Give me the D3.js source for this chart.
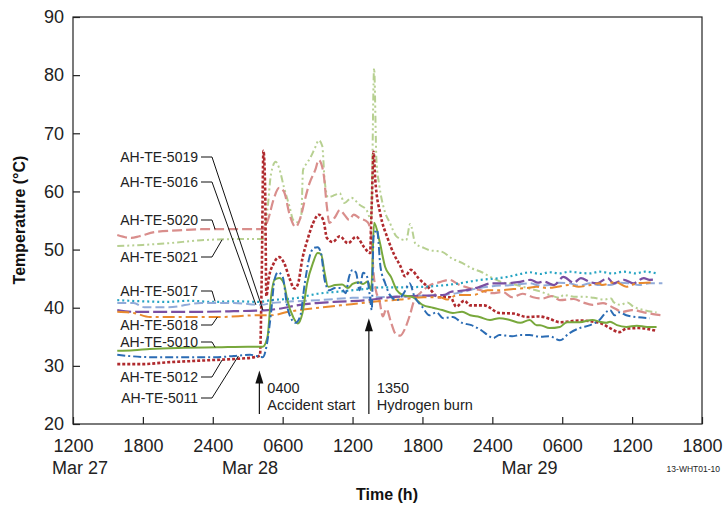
<!DOCTYPE html>
<html>
<head>
<meta charset="utf-8">
<script src="https://cdn.jsdelivr.net/npm/d3@7"></script>
<style>
  body { margin: 0; background: #fff; }
  svg { font-family: "Liberation Sans", Arial, sans-serif; }
</style>
</head>
<body>
<div id="chart"></div>
<script>
// hours counted from 1200 Mar 27
const hourTicks = [0, 6, 12, 18, 24, 30, 36, 42, 48, 54];
const timeLabels = ["1200", "1800", "2400", "0600", "1200", "1800", "2400", "0600", "1200", "1800"];
const dateLabels = ["Mar 27", "Mar 28", "Mar 29"];
const dateHours = [0.6, 15.2, 39.2];
const tempTicks = [20, 30, 40, 50, 60, 70, 80, 90];

const ah5012 = [[3.8,30.3],[6,30.3],[8,30.6],[10,30.8],[12,31],[14,31.2],[15.6,31.5],[16.05,31.8],[16.2,45],[16.35,67],[16.5,60],[16.6,42],[16.8,45],[17.2,47.5],[17.7,48.7],[18.1,47.8],[18.6,45],[19.0,43.3],[19.3,44],[19.7,48.5],[20.1,51.5],[20.6,54.5],[21.1,56],[21.5,55],[21.8,52],[22.3,51.3],[22.9,52.3],[23.6,51.1],[24.3,52.2],[25,50.4],[25.5,49.4],[25.65,58],[25.8,66.8],[25.95,62],[26.4,56],[27.0,52],[27.6,49],[28.1,47.2],[28.5,45.4],[29,46.5],[29.7,45],[30.6,43.3],[31.4,41.8],[32.4,41.8],[32.9,40.2],[33.6,41.2],[34.1,40.4],[35.3,40.4],[36.6,39.1],[37.8,39],[39,38.4],[40,38.5],[40.9,38.1],[41.8,37.5],[43.5,37.8],[45.2,37.4],[46.1,36.5],[46.9,35.8],[47.5,36.4],[48.6,36.5],[50.1,36.0]];
const ah5020 = [[3.8,52.5],[5.0,52],[5.7,52.3],[7,53],[9,53.3],[11,53.5],[14,53.5],[16.3,53.5],[16.8,55.5],[17.2,58.5],[17.7,60.6],[18.1,60],[18.6,56],[19.1,53.9],[19.6,56],[19.9,58.5],[20.3,61.4],[20.8,63.7],[21.1,65.4],[21.5,63.2],[21.8,57.3],[22.0,54.6],[22.5,55.6],[22.9,56.8],[23.3,56],[23.7,55.1],[24.1,56],[24.6,55.4],[25.3,54.7],[25.6,52.5],[25.8,46],[26.0,43],[26.3,41.3],[26.6,38.5],[26.9,39.8],[27.3,37.5],[27.7,35.5],[28.1,35.2],[28.5,36.4],[28.9,38.6],[29.3,41.3],[29.8,42.5],[30.6,43.8],[31.5,44.4],[32.3,44.8],[33.1,44],[34.0,43.4],[34.8,43.1],[36.0,42.5],[36.9,42.7],[37.7,41.8],[38.6,42.4],[39.5,41.8],[40.3,41.6],[41.1,42],[41.8,41.3],[43.0,41.5],[43.8,40.9],[44.6,40.5],[45.5,40.8],[46.3,40.1],[47.2,39.3],[48.0,39.6],[49.0,39.2],[49.8,38.9],[50.6,38.7]];
const ah5021 = [[3.8,50.6],[6,50.8],[8.2,51.1],[11,51.6],[14,51.8],[16.3,51.8],[16.7,57],[17.0,63],[17.4,65.1],[17.7,64],[18.1,60.8],[18.6,57.3],[18.9,55.1],[19.3,54.7],[19.6,55.9],[19.75,63.7],[20.1,64.9],[20.4,65.9],[20.8,67.6],[21.1,68.8],[21.4,67.8],[21.6,62],[21.9,59],[22.5,59.4],[22.9,59.7],[23.3,58],[23.9,58.9],[24.6,57.7],[25.2,56.8],[25.6,55.1],[25.85,81.2],[26.05,65.4],[26.3,61],[26.7,57],[27.2,54.6],[27.8,52.2],[28.6,51.6],[28.95,54.4],[29.4,51],[30,50.4],[30.6,49.9],[31.7,49.6],[32.5,48.5],[33.4,47.7],[34.2,46.8],[35.1,46.1],[36,45.1],[36.8,44.4],[37.9,44],[39.0,43.4],[40.1,42.8],[40.9,42.2],[41.8,41.7],[42.1,42.2],[43,41.9],[43.9,41.9],[44.7,41.7],[45.6,41.4],[46.2,41.6],[46.4,41],[47,40.5],[47.6,40.9],[48.1,40.2],[49,39.6],[50.1,39.2]];
const ah5017 = [[3.8,41.3],[6,41.1],[8,41],[10,41.2],[12,41],[14,41.1],[16,41],[17,41.3],[19,41.6],[21,42.4],[23,42.8],[25,43.2],[26.5,43.5],[28,43.5],[30,43.6],[31.5,43.8],[32.5,44],[33.8,44.4],[35,44.8],[36.2,45],[37.3,45.3],[38.4,45.8],[39.2,46.1],[40.1,45.8],[40.9,46.1],[41.8,45.9],[42.6,46.2],[43.5,46],[44.4,45.9],[45.2,46.2],[46.3,45.9],[47.3,46.2],[48.3,45.9],[49.1,46.2],[50.1,45.9]];
const ah5016 = [[3.8,40.8],[5.2,40.8],[6.1,40.1],[8.2,40.1],[11,40.8],[13.8,40.8],[16.2,40.5],[17,40.8],[18.2,41],[21.1,41.3],[24,41.7],[26.4,41.8],[29,42],[31.9,42.2],[33.2,42.6],[34.9,43.4],[36,43.7],[37.7,43.9],[39.2,44.2],[40.1,43.8],[40.9,43.9],[41.7,44.3],[42.6,44.2],[43.5,43.8],[44.4,44.2],[45.2,43.9],[46.1,43.9],[46.9,44.3],[47.8,44.2],[48.6,43.9],[49.5,44.2],[50.6,44.2]];
const ah5019 = [[3.8,39.6],[5.2,39.3],[8.2,39.3],[11,39.3],[13.8,39.4],[16.7,39.6],[17.6,39.8],[19.5,40.5],[22.4,41],[25.3,41.3],[27.2,41.8],[29,42],[31.9,42.2],[32.4,42.7],[33.7,43],[34.8,43.5],[35.9,44.2],[37.1,44.2],[38.2,44.4],[39.3,44.8],[39.9,44.3],[40.4,44.5],[41.3,43.9],[42.1,45.3],[43,44.3],[43.6,45.1],[44.4,44.4],[45,44.2],[45.9,45.1],[46.4,44.2],[47.3,44.8],[48.1,44.2],[49,45.1],[49.5,44.8],[50.1,44.9]];
const ah5018 = [[3.8,39.3],[5.2,39.1],[6.6,38.4],[9.5,38.4],[12.4,38.4],[16,38.7],[17,38.7],[18.5,39.3],[21.1,40],[23.9,40.6],[26.7,41.2],[28.1,41.4],[30.1,41.8],[31.5,41.8],[32.1,41.4],[33,42.2],[34.4,42.2],[35.6,43],[36.6,43],[37.8,43.2],[39,43.4],[39.8,43.6],[40.7,43.4],[41.6,43.6],[42.6,43.9],[43.4,43.6],[44.4,43.9],[45.2,44.2],[45.4,43.9],[46.6,44.4],[47.5,43.6],[48.4,44.2],[49.2,44.3],[49.9,44.4]];
const ah5010 = [[3.8,32.6],[5.2,32.7],[6.6,32.9],[9.5,33.1],[12.4,33.2],[15,33.3],[16.3,33.3],[16.7,35],[17.0,41.8],[17.3,44.8],[17.7,45.1],[18.1,44.2],[18.4,41.3],[18.9,38.4],[19.3,37.3],[19.7,39.1],[20.1,44.2],[20.6,47.7],[21.0,49.4],[21.3,49.2],[21.6,46],[21.9,43.6],[22.5,43.9],[23.1,44],[23.6,43.4],[24,44.1],[24.5,44.4],[24.9,44.1],[25.3,44.5],[25.6,43],[25.85,54.6],[26.3,51.6],[26.8,47],[27.3,45.3],[27.8,43],[28.3,42.2],[29.2,41.8],[30,40.5],[30.9,40],[31.7,39.6],[32.6,39.1],[33.4,39.3],[34.1,38.7],[34.9,38.4],[35.8,37.9],[36.6,38.2],[37.5,37.9],[38.4,37.4],[39.2,37.9],[39.8,37],[40.1,37],[40.9,36.5],[41.8,36.7],[42.4,37.5],[43.5,37.5],[44.6,37.9],[45.2,37.6],[45.8,37.4],[46.1,37.6],[46.7,37],[47.5,36.7],[48.4,36.9],[49.3,36.7],[50.1,36.7]];
const ah5011 = [[3.8,31.9],[6.6,31.5],[9.5,31.5],[12.4,31.5],[13.8,31.7],[15.2,31.9],[16.3,31.5],[16.7,34.4],[17.0,39.1],[17.3,44.8],[17.6,46.1],[18.0,45.3],[18.4,40.1],[18.8,37.9],[19.1,37.4],[19.5,38.5],[19.9,44.2],[20.3,48.7],[20.7,50.3],[21,50.4],[21.3,49.3],[21.6,44.8],[22,43],[22.5,43.4],[23,43.4],[23.4,42.5],[23.7,45.3],[24,46.5],[24.3,46],[24.6,43],[24.9,46],[25.2,45.6],[25.5,41.8],[25.65,39.6],[25.8,52.2],[26.1,53.4],[26.4,47],[26.8,44.2],[27.2,42.2],[27.8,41.3],[28.4,42.5],[28.9,44.2],[29.3,42],[30,40.1],[30.6,38.7],[31.2,39.2],[31.8,38.2],[32.6,38.4],[33.4,37.4],[34.2,37],[35,36.2],[36.1,34.8],[36.6,35.3],[37.7,35.1],[38.4,35.3],[39.2,35.3],[40.1,35],[40.9,35.1],[41.8,34.4],[42.6,35.6],[43.5,36.5],[44.4,37],[45.2,37.9],[45.8,39.3],[46.1,39.6],[46.5,38.7],[46.9,39.2],[47.5,38.7],[48.3,38.4],[49.5,38.2]];

// drawing order, style per sensor
const series = [
  { name: "AH-TE-5021", data: ah5021, color: "#b7d091", width: 2, dash: "7,3,2,3,2,3" },
  { name: "AH-TE-5020", data: ah5020, color: "#d98e8c", width: 2.2, dash: "10,4" },
  { name: "AH-TE-5012", data: ah5012, color: "#b02a2e", width: 2.6, dash: "3,2" },
  { name: "AH-TE-5017", data: ah5017, color: "#26a4c3", width: 2.2, dash: "2,3" },
  { name: "AH-TE-5016", data: ah5016, color: "#91abd9", width: 2, dash: "9,4" },
  { name: "AH-TE-5019", data: ah5019, color: "#7a4fa2", width: 2.2, dash: "14,4" },
  { name: "AH-TE-5018", data: ah5018, color: "#e98a2e", width: 2, dash: "12,4,3,4" },
  { name: "AH-TE-5010", data: ah5010, color: "#78a83c", width: 2, dash: null },
  { name: "AH-TE-5011", data: ah5011, color: "#2b6cb4", width: 2, dash: "8,3,2,3" }
];

// label text, label row in pixels, target point on its line [hour, temp]
const labels = [
  { name: "AH-TE-5019", y: 157, target: [16.3, 39.6] },
  { name: "AH-TE-5016", y: 182, target: [15.7, 40.5] },
  { name: "AH-TE-5020", y: 220, target: [12.2, 53.5] },
  { name: "AH-TE-5021", y: 257, target: [12.8, 51.7] },
  { name: "AH-TE-5017", y: 291, target: [12.2, 41.1] },
  { name: "AH-TE-5018", y: 325, target: [12.4, 38.4] },
  { name: "AH-TE-5010", y: 342, target: [12.2, 33.2] },
  { name: "AH-TE-5012", y: 377, target: [12.8, 31.0] },
  { name: "AH-TE-5011", y: 398, target: [14.2, 31.7] }
];

const events = [
  { hour: 16.0, tipTemp: 29.2, text: ["0400", "Accident start"] },
  { hour: 25.4, tipTemp: 38.2, text: ["1350", "Hydrogen burn"] }
];

const width = 724, height = 506;
const margin = { top: 17, right: 22, bottom: 82, left: 73 };

const svg = d3.select("#chart").append("svg")
  .attr("width", width)
  .attr("height", height);

const x = d3.scaleLinear().domain([0, 54]).range([margin.left, width - margin.right]);
const y = d3.scaleLinear().domain([20, 90]).range([height - margin.bottom, margin.top]);

// frame
svg.append("rect")
  .attr("x", x(0)).attr("y", y(90))
  .attr("width", x(54) - x(0)).attr("height", y(20) - y(90))
  .attr("fill", "none").attr("stroke", "#222").attr("stroke-width", 1.2);

const xAxis = svg.append("g")
  .attr("transform", `translate(0, ${y(20)})`)
  .call(d3.axisBottom(x).tickValues(hourTicks).tickSizeInner(-7).tickSizeOuter(0)
    .tickPadding(15).tickFormat((d, i) => timeLabels[i]));
xAxis.select(".domain").remove();
xAxis.selectAll(".tick line").attr("stroke", "#222").attr("stroke-width", 1.2);
xAxis.selectAll(".tick text").attr("font-size", 18).attr("fill", "#222")
  .attr("font-family", "Liberation Sans, Arial, sans-serif");

svg.append("g").selectAll("text")
  .data(dateLabels)
  .join("text")
  .attr("x", (d, i) => x(dateHours[i]))
  .attr("y", 474)
  .attr("text-anchor", "middle")
  .attr("font-size", 18)
  .attr("fill", "#222")
  .text(d => d);

const yAxis = svg.append("g")
  .attr("transform", `translate(${x(0)}, 0)`)
  .call(d3.axisLeft(y).tickValues(tempTicks).tickSizeInner(-7).tickSizeOuter(0).tickPadding(9));
yAxis.select(".domain").remove();
yAxis.selectAll(".tick line").attr("stroke", "#222").attr("stroke-width", 1.2);
yAxis.selectAll(".tick text").attr("font-size", 18).attr("fill", "#222")
  .attr("font-family", "Liberation Sans, Arial, sans-serif");

svg.append("text")
  .attr("transform", "rotate(-90)")
  .attr("x", -220).attr("y", 25)
  .attr("text-anchor", "middle")
  .attr("font-size", 16).attr("font-weight", "bold").attr("fill", "#111")
  .text("Temperature (°C)");

svg.append("text")
  .attr("x", 387).attr("y", 500)
  .attr("text-anchor", "middle")
  .attr("font-size", 16).attr("font-weight", "bold").attr("fill", "#111")
  .text("Time (h)");

svg.append("text")
  .attr("x", 720).attr("y", 472)
  .attr("text-anchor", "end")
  .attr("font-size", 8.5).attr("fill", "#222")
  .text("13-WHT01-10");

// sensor lines
const line = d3.line()
  .x(d => x(d[0]))
  .y(d => y(d[1]))
  .curve(d3.curveMonotoneX);

svg.append("g").selectAll("path")
  .data(series)
  .join("path")
  .attr("d", d => line(d.data))
  .attr("fill", "none")
  .attr("stroke", d => d.color)
  .attr("stroke-width", d => d.width)
  .attr("stroke-dasharray", d => d.dash)
  .attr("stroke-linejoin", "round");

// labels with leader lines
const lab = svg.append("g");
labels.forEach(d => {
  lab.append("text")
    .attr("x", 198).attr("y", d.y)
    .attr("dy", "0.35em")
    .attr("text-anchor", "end")
    .attr("font-size", 14).attr("fill", "#222")
    .text(d.name);
  lab.append("path")
    .attr("d", `M201,${d.y}H212L${x(d.target[0])},${y(d.target[1])}`)
    .attr("fill", "none").attr("stroke", "#111").attr("stroke-width", 1);
});

// event arrows
const ev = svg.append("g");
events.forEach(d => {
  const ax = x(d.hour), tip = y(d.tipTemp);
  ev.append("line")
    .attr("x1", ax).attr("x2", ax)
    .attr("y1", y(20) - 10).attr("y2", tip + 8)
    .attr("stroke", "#111").attr("stroke-width", 1.2);
  ev.append("path")
    .attr("d", `M${ax},${tip}L${ax - 4},${tip + 13}L${ax + 4},${tip + 13}Z`)
    .attr("fill", "#111");
  d.text.forEach((t, i) => {
    ev.append("text")
      .attr("x", ax + 8).attr("y", 393 + i * 17)
      .attr("font-size", 14.5).attr("fill", "#222")
      .text(t);
  });
});
</script>
</body>
</html>
